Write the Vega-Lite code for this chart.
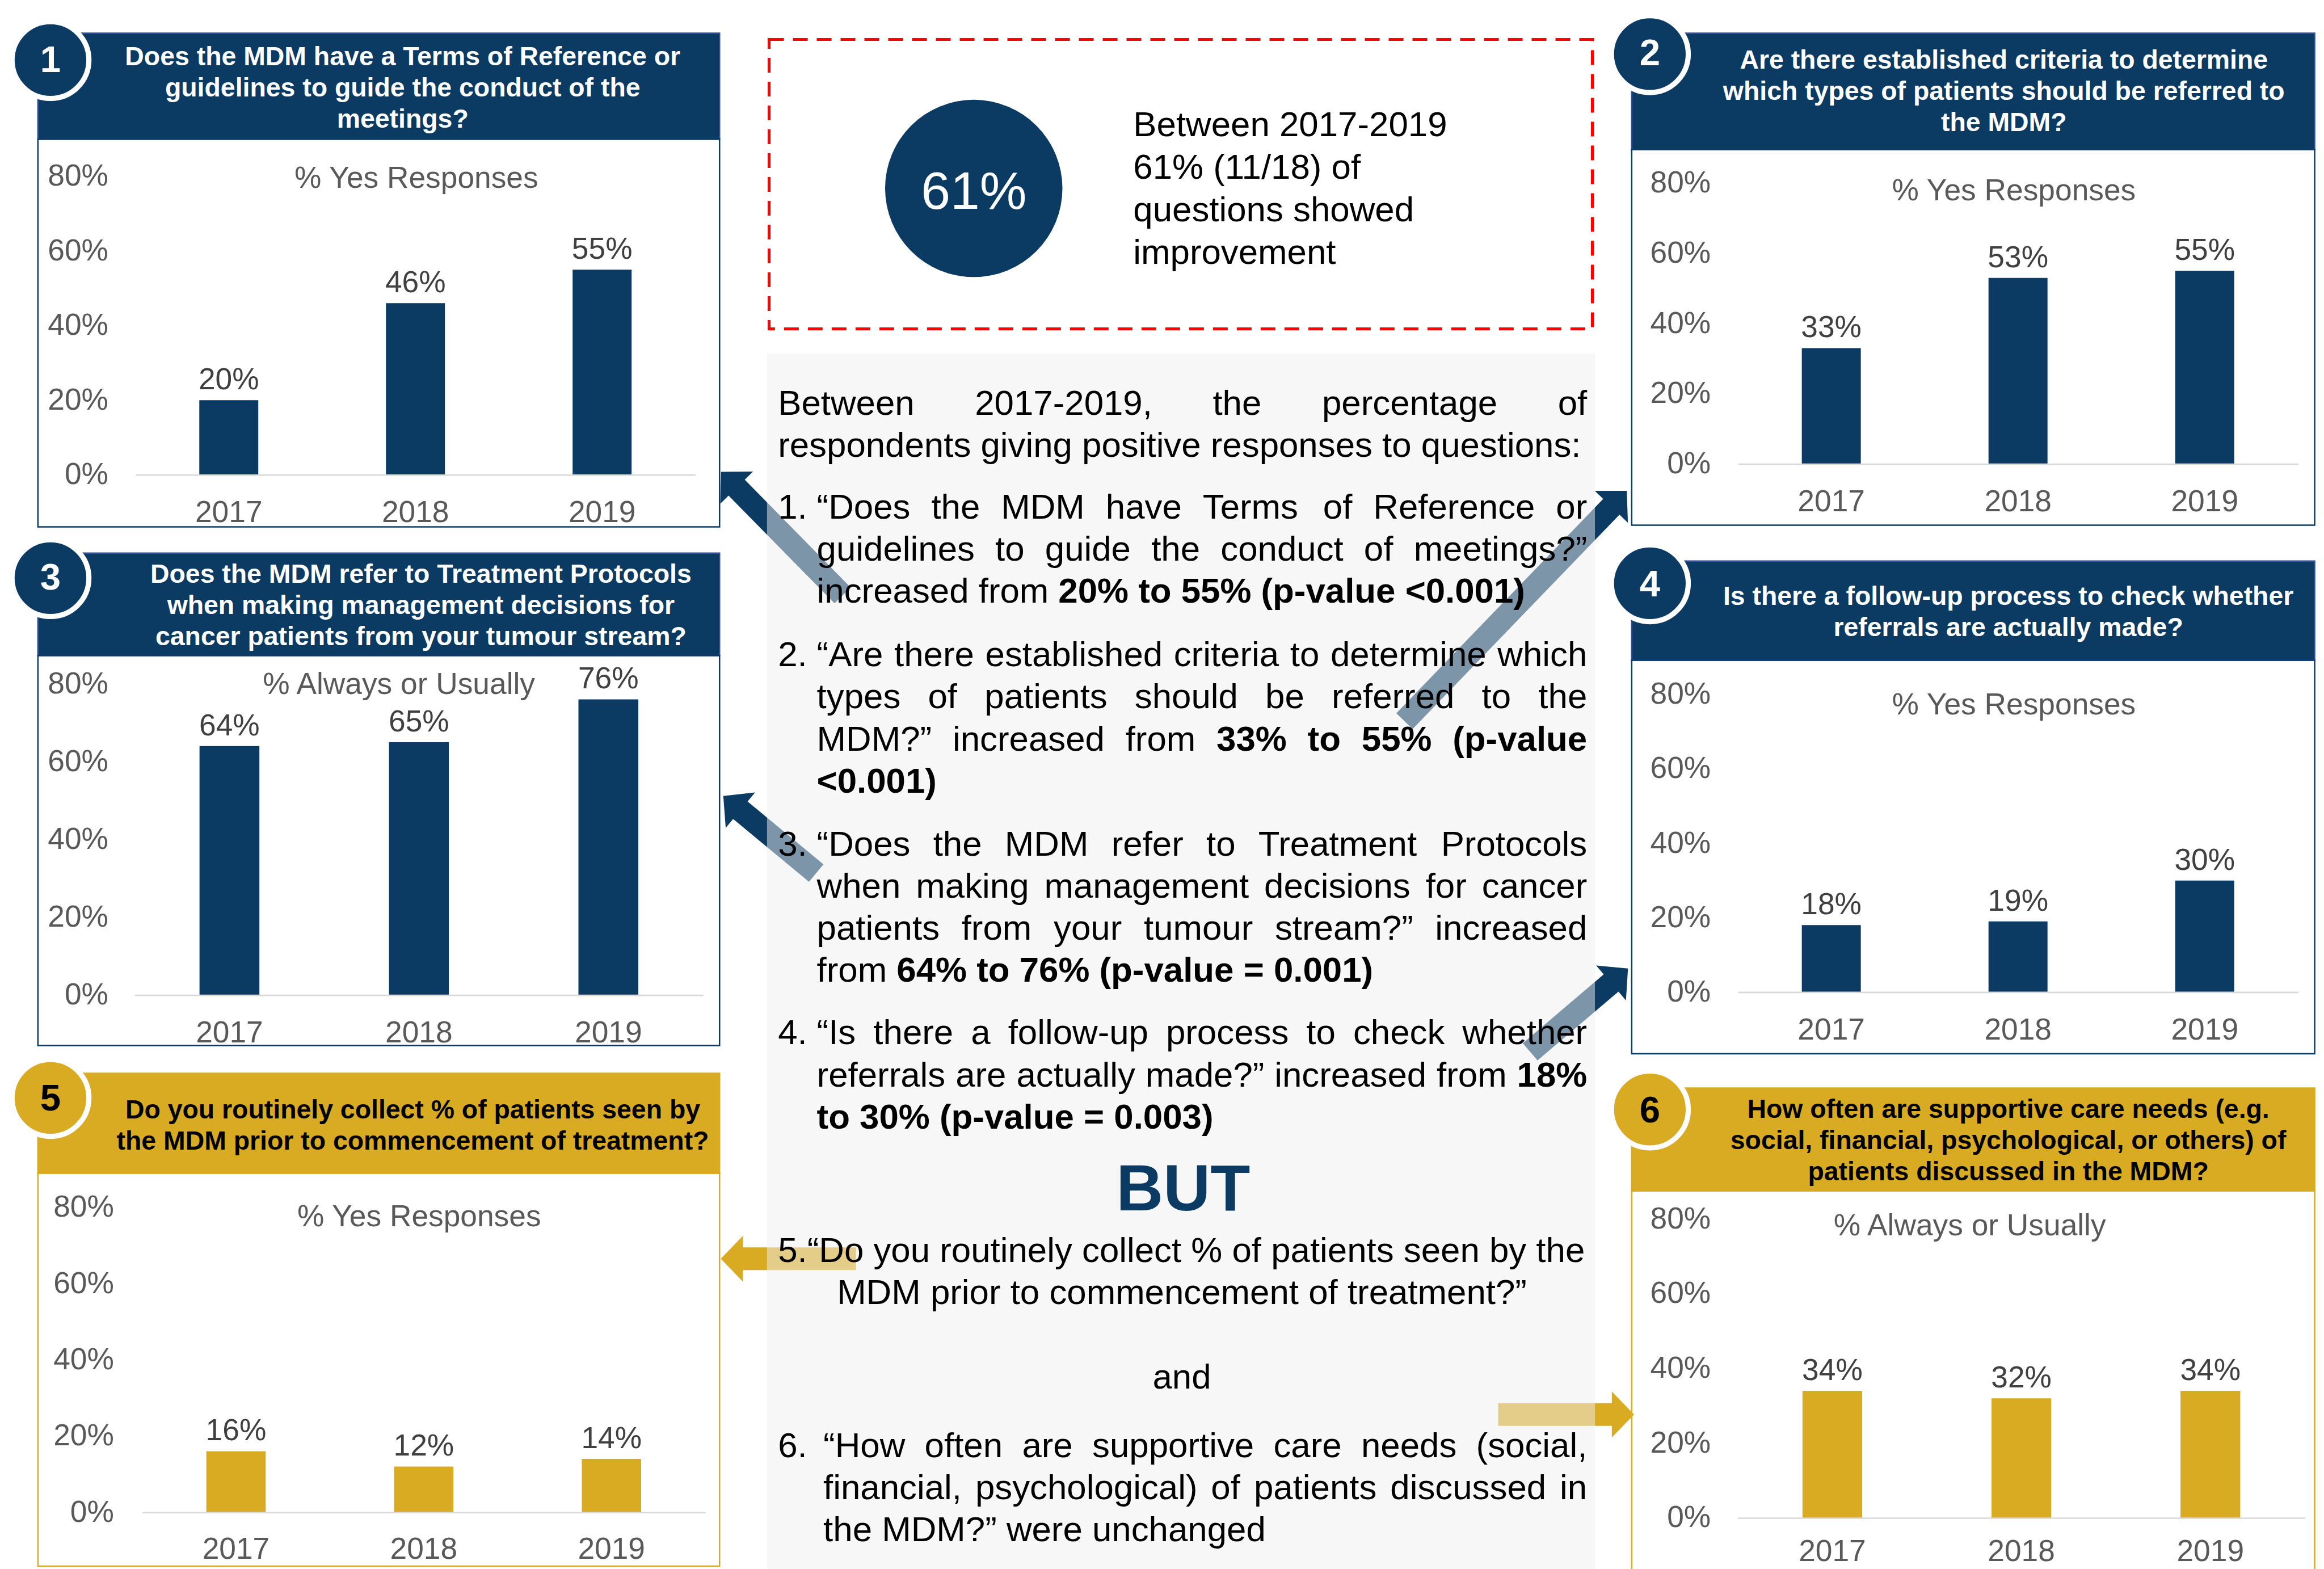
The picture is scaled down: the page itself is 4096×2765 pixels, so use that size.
{
"$schema":"https://vega.github.io/schema/vega-lite/v6.json",
"width":4096,"height":2765,"autosize":{"type":"none"},"padding":0,"background":"#ffffff",
"config":{"font":"Liberation Sans","view":{"stroke":null},"axis":{"labelFont":"Liberation Sans"},"text":{"font":"Liberation Sans"}},
"resolve":{"scale":{"x":"independent","y":"independent"},"axis":{"x":"independent","y":"independent"}},
"layer":[
{"layer":[
{"data":{"values":[{"x":25.6,"x2":485.5,"y":22.4,"y2":93.9},{"x":25.6,"x2":485.5,"y":373.1,"y2":442.2},{"x":1100.9,"x2":1561.7,"y":22.4,"y2":100.9},{"x":1100.9,"x2":1561.7,"y":378.5,"y2":445.4}]},
"mark":{"type":"rect","fill":"#0b3a63","stroke":"#34509a","strokeWidth":2.5},
"encoding":{"x":{"field":"x","type":"quantitative","scale":{"domain":[0,1568],"range":[0,4096],"nice":false,"zero":false},"axis":null},"x2":{"field":"x2"},"y":{"field":"y","type":"quantitative","scale":{"domain":[0,1058.48],"range":[0,2765],"nice":false,"zero":false},"axis":null},"y2":{"field":"y2"}}},
{"data":{"values":[{"x":25.6,"x2":485.5,"y":724.1,"y2":791.5},{"x":1100.9,"x2":1561.7,"y":734,"y2":803.4}]},
"mark":{"type":"rect","fill":"#d9ab23","stroke":"#d9ab23","strokeWidth":2.5},
"encoding":{"x":{"field":"x","type":"quantitative","scale":{"domain":[0,1568],"range":[0,4096],"nice":false,"zero":false},"axis":null},"x2":{"field":"x2"},"y":{"field":"y","type":"quantitative","scale":{"domain":[0,1058.48],"range":[0,2765],"nice":false,"zero":false},"axis":null},"y2":{"field":"y2"}}},
{"data":{"values":[{"x":25.6,"x2":485.5,"y":93.9,"y2":355.4},{"x":25.6,"x2":485.5,"y":442.2,"y2":705.3},{"x":1100.9,"x2":1561.7,"y":100.9,"y2":354.3},{"x":1100.9,"x2":1561.7,"y":445.4,"y2":710.9}]},
"mark":{"type":"rect","filled":false,"fillOpacity":0,"color":"#0b3a63","stroke":"#0b3a63","strokeWidth":2.5},
"encoding":{"x":{"field":"x","type":"quantitative","scale":{"domain":[0,1568],"range":[0,4096],"nice":false,"zero":false},"axis":null},"x2":{"field":"x2"},"y":{"field":"y","type":"quantitative","scale":{"domain":[0,1058.48],"range":[0,2765],"nice":false,"zero":false},"axis":null},"y2":{"field":"y2"}}},
{"data":{"values":[{"x":25.6,"x2":485.5,"y":791.5,"y2":1056.6},{"x":1100.9,"x2":1561.7,"y":803.4,"y2":1060}]},
"mark":{"type":"rect","filled":false,"fillOpacity":0,"color":"#d9ab23","stroke":"#d9ab23","strokeWidth":2.5},
"encoding":{"x":{"field":"x","type":"quantitative","scale":{"domain":[0,1568],"range":[0,4096],"nice":false,"zero":false},"axis":null},"x2":{"field":"x2"},"y":{"field":"y","type":"quantitative","scale":{"domain":[0,1058.48],"range":[0,2765],"nice":false,"zero":false},"axis":null},"y2":{"field":"y2"}}},
{"data":{"values":[
{"x":568.5,"y":401.7,"x2":494.91,"y2":326.85},
{"x":947.6,"y":486.5,"x2":1089.27,"y2":339.73},
{"x":550.7,"y":589.0,"x2":497.24,"y2":544.66},
{"x":1032.4,"y":709.6,"x2":1089.26,"y2":661.18}]},
"mark":{"type":"rule","strokeWidth":40,"strokeCap":"butt","color":"#0b3a63"},
"encoding":{"x":{"field":"x","type":"quantitative","scale":{"domain":[0,1568],"range":[0,4096],"nice":false,"zero":false},"axis":null},"x2":{"field":"x2"},"y":{"field":"y","type":"quantitative","scale":{"domain":[0,1058.48],"range":[0,2765],"nice":false,"zero":false},"axis":null},"y2":{"field":"y2"}}},
{"data":{"values":[
{"x":577.5,"y":849.2,"x2":498.3,"y2":849.2},
{"x":1010.8,"y":954.3,"x2":1090.5,"y2":954.3}]},
"mark":{"type":"rule","strokeWidth":40,"strokeCap":"butt","color":"#d9ab23"},
"encoding":{"x":{"field":"x","type":"quantitative","scale":{"domain":[0,1568],"range":[0,4096],"nice":false,"zero":false},"axis":null},"x2":{"field":"x2"},"y":{"field":"y","type":"quantitative","scale":{"domain":[0,1058.48],"range":[0,2765],"nice":false,"zero":false},"axis":null},"y2":{"field":"y2"}}},
{"data":{"values":[
{"x":491.76,"y":323.65,"a":225.48},
{"x":1092.39,"y":336.5,"a":313.98},
{"x":493.77,"y":541.79,"a":219.67},
{"x":1092.69,"y":658.26,"a":319.59}]},
"mark":{"type":"point","shape":"M1,0L-1,-2.067L-1,2.067Z","filled":true,"size":1535,"opacity":1,"color":"#0b3a63"},
"encoding":{"x":{"field":"x","type":"quantitative","scale":{"domain":[0,1568],"range":[0,4096],"nice":false,"zero":false},"axis":null},"y":{"field":"y","type":"quantitative","scale":{"domain":[0,1058.48],"range":[0,2765],"nice":false,"zero":false},"axis":null},"angle":{"field":"a","type":"quantitative","scale":null}}},
{"data":{"values":[
{"x":493.8,"y":849.2,"a":180},
{"x":1095.0,"y":954.3,"a":0}]},
"mark":{"type":"point","shape":"M1,0L-1,-2.067L-1,2.067Z","filled":true,"size":1535,"opacity":1,"color":"#d9ab23"},
"encoding":{"x":{"field":"x","type":"quantitative","scale":{"domain":[0,1568],"range":[0,4096],"nice":false,"zero":false},"axis":null},"y":{"field":"y","type":"quantitative","scale":{"domain":[0,1058.48],"range":[0,2765],"nice":false,"zero":false},"axis":null},"angle":{"field":"a","type":"quantitative","scale":null}}},
{"data":{"values":[{}]},"mark":{"type":"rect","fill":"#efefef","fillOpacity":0.5},
"encoding":{"x":{"datum":517.5,"type":"quantitative","scale":{"domain":[0,1568],"range":[0,4096],"nice":false,"zero":false},"axis":null},"x2":{"datum":1076.1},"y":{"datum":238.6,"type":"quantitative","scale":{"domain":[0,1058.48],"range":[0,2765],"nice":false,"zero":false},"axis":null},"y2":{"datum":1058.48}}},
{"data":{"values":[{}]},"mark":{"type":"rect","fillOpacity":0,"stroke":"#ff0000","strokeWidth":5.2,"strokeDash":[26,16]},
"encoding":{"x":{"datum":518.9,"type":"quantitative","scale":{"domain":[0,1568],"range":[0,4096],"nice":false,"zero":false},"axis":null},"x2":{"datum":1074.4},"y":{"datum":26.6,"type":"quantitative","scale":{"domain":[0,1058.48],"range":[0,2765],"nice":false,"zero":false},"axis":null},"y2":{"datum":221.9}}},
{"data":{"values":[{}]},"mark":{"type":"point","shape":"circle","filled":true,"size":97680,"color":"#0b3a63","opacity":1},
"encoding":{"x":{"datum":657,"type":"quantitative","scale":{"domain":[0,1568],"range":[0,4096],"nice":false,"zero":false},"axis":null},"y":{"datum":127.1,"type":"quantitative","scale":{"domain":[0,1058.48],"range":[0,2765],"nice":false,"zero":false},"axis":null}}},
{"data":{"values":[{}]},"mark":{"type":"text","align":"center","baseline":"alphabetic","fontSize":93,"color":"#ffffff","text":"61%"},
"encoding":{"x":{"datum":657,"type":"quantitative","scale":{"domain":[0,1568],"range":[0,4096],"nice":false,"zero":false},"axis":null},"y":{"datum":141,"type":"quantitative","scale":{"domain":[0,1058.48],"range":[0,2765],"nice":false,"zero":false},"axis":null}}},
{"data":{"values":[
{"x":764.6,"y":92,"t":"Between 2017-2019"},
{"x":764.6,"y":120.7,"t":"61% (11/18) of"},
{"x":764.6,"y":149.4,"t":"questions showed"},
{"x":764.6,"y":178,"t":"improvement"}]},
"mark":{"type":"text","align":"left","baseline":"alphabetic","fontSize":61.8,"color":"#000000"},
"encoding":{"x":{"field":"x","type":"quantitative","scale":{"domain":[0,1568],"range":[0,4096],"nice":false,"zero":false},"axis":null},"y":{"field":"y","type":"quantitative","scale":{"domain":[0,1058.48],"range":[0,2765],"nice":false,"zero":false},"axis":null},"text":{"field":"t"}}},
{"data":{"values":[
{"x":524.9,"y":280,"t":"Between"},
{"x":657.75,"y":280,"t":"2017-2019,"},
{"x":818.23,"y":280,"t":"the"},
{"x":891.93,"y":280,"t":"percentage"},
{"x":1051.08,"y":280,"t":"of"},
{"x":524.9,"y":308.3,"t":"respondents giving positive responses to questions:"},
{"x":524.9,"y":349.9,"t":"1."},
{"x":551.1,"y":349.9,"t":"“Does"},
{"x":628.34,"y":349.9,"t":"the"},
{"x":675.38,"y":349.9,"t":"MDM"},
{"x":746.03,"y":349.9,"t":"have"},
{"x":811.47,"y":349.9,"t":"Terms"},
{"x":892.64,"y":349.9,"t":"of"},
{"x":926.53,"y":349.9,"t":"Reference"},
{"x":1049.8,"y":349.9,"t":"or"},
{"x":551.1,"y":378.3,"t":"guidelines"},
{"x":671.45,"y":378.3,"t":"to"},
{"x":705.05,"y":378.3,"t":"guide"},
{"x":776.78,"y":378.3,"t":"the"},
{"x":823.53,"y":378.3,"t":"conduct"},
{"x":920.23,"y":378.3,"t":"of"},
{"x":953.83,"y":378.3,"t":"meetings?”"},
{"x":551.1,"y":406.7,"t":"increased from"},
{"x":524.9,"y":449.5,"t":"2."},
{"x":551.1,"y":449.5,"t":"“Are"},
{"x":603.32,"y":449.5,"t":"there"},
{"x":664.76,"y":449.5,"t":"established"},
{"x":791.92,"y":449.5,"t":"criteria"},
{"x":870.41,"y":449.5,"t":"to"},
{"x":897.67,"y":449.5,"t":"determine"},
{"x":1010.36,"y":449.5,"t":"which"},
{"x":551.1,"y":477.9,"t":"types"},
{"x":626.09,"y":477.9,"t":"of"},
{"x":664.28,"y":477.9,"t":"patients"},
{"x":765.57,"y":477.9,"t":"should"},
{"x":853.71,"y":477.9,"t":"be"},
{"x":898.48,"y":477.9,"t":"referred"},
{"x":999.75,"y":477.9,"t":"to"},
{"x":1037.94,"y":477.9,"t":"the"},
{"x":551.1,"y":506.3,"t":"MDM?”"},
{"x":642.72,"y":506.3,"t":"increased"},
{"x":759.36,"y":506.3,"t":"from"},
{"x":524.9,"y":577.2,"t":"3."},
{"x":551.1,"y":577.2,"t":"“Does"},
{"x":629.6,"y":577.2,"t":"the"},
{"x":677.9,"y":577.2,"t":"MDM"},
{"x":749.81,"y":577.2,"t":"refer"},
{"x":813.86,"y":577.2,"t":"to"},
{"x":849.01,"y":577.2,"t":"Treatment"},
{"x":972.21,"y":577.2,"t":"Protocols"},
{"x":551.1,"y":605.6,"t":"when"},
{"x":617.98,"y":605.6,"t":"making"},
{"x":704.56,"y":605.6,"t":"management"},
{"x":852.94,"y":605.6,"t":"decisions"},
{"x":961.87,"y":605.6,"t":"for"},
{"x":999.83,"y":605.6,"t":"cancer"},
{"x":551.1,"y":634,"t":"patients"},
{"x":648.75,"y":634,"t":"from"},
{"x":710.88,"y":634,"t":"your"},
{"x":771.71,"y":634,"t":"tumour"},
{"x":860.14,"y":634,"t":"stream?”"},
{"x":968.27,"y":634,"t":"increased"},
{"x":551.1,"y":662.4,"t":"from"},
{"x":524.9,"y":704.5,"t":"4."},
{"x":551.1,"y":704.5,"t":"“Is"},
{"x":589.28,"y":704.5,"t":"there"},
{"x":655.08,"y":704.5,"t":"a"},
{"x":680.13,"y":704.5,"t":"follow-up"},
{"x":786.65,"y":704.5,"t":"process"},
{"x":881.35,"y":704.5,"t":"to"},
{"x":912.97,"y":704.5,"t":"check"},
{"x":986.64,"y":704.5,"t":"whether"},
{"x":551.1,"y":732.9,"t":"referrals"},
{"x":644.71,"y":732.9,"t":"are"},
{"x":685.77,"y":732.9,"t":"actually"},
{"x":772.83,"y":732.9,"t":"made?”"},
{"x":859.89,"y":732.9,"t":"increased"},
{"x":969.3,"y":732.9,"t":"from"},
{"x":524.9,"y":851.4,"t":"5.“Do you routinely collect % of patients seen by the"},
{"x":524.9,"y":983.1,"t":"6."},
{"x":555.5,"y":983.1,"t":"“How"},
{"x":623.84,"y":983.1,"t":"often"},
{"x":689.6,"y":983.1,"t":"are"},
{"x":736.93,"y":983.1,"t":"supportive"},
{"x":859.19,"y":983.1,"t":"care"},
{"x":918.35,"y":983.1,"t":"needs"},
{"x":995.93,"y":983.1,"t":"(social,"},
{"x":555.5,"y":1011.5,"t":"financial,"},
{"x":658.03,"y":1011.5,"t":"psychological)"},
{"x":817.06,"y":1011.5,"t":"of"},
{"x":845.99,"y":1011.5,"t":"patients"},
{"x":938.02,"y":1011.5,"t":"discussed"},
{"x":1052.38,"y":1011.5,"t":"in"},
{"x":555.5,"y":1039.9,"t":"the MDM?” were unchanged"}]},
"mark":{"type":"text","align":"left","baseline":"alphabetic","fontSize":61.8,"color":"#000000"},
"encoding":{"x":{"field":"x","type":"quantitative","scale":{"domain":[0,1568],"range":[0,4096],"nice":false,"zero":false},"axis":null},"y":{"field":"y","type":"quantitative","scale":{"domain":[0,1058.48],"range":[0,2765],"nice":false,"zero":false},"axis":null},"text":{"field":"t"}}},
{"data":{"values":[
{"x":714.07,"y":406.7,"t":"20% to 55% (p-value <0.001)"},
{"x":820.78,"y":506.3,"t":"33%"},
{"x":882.22,"y":506.3,"t":"to"},
{"x":918.67,"y":506.3,"t":"55%"},
{"x":980.11,"y":506.3,"t":"(p-value"},
{"x":551.1,"y":534.7,"t":"<0.001)"},
{"x":604.97,"y":662.4,"t":"64% to 76% (p-value = 0.001)"},
{"x":1023.49,"y":732.9,"t":"18%"},
{"x":551.1,"y":761.3,"t":"to 30% (p-value = 0.003)"}]},
"mark":{"type":"text","align":"left","baseline":"alphabetic","fontSize":61.8,"fontWeight":"bold","color":"#000000"},
"encoding":{"x":{"field":"x","type":"quantitative","scale":{"domain":[0,1568],"range":[0,4096],"nice":false,"zero":false},"axis":null},"y":{"field":"y","type":"quantitative","scale":{"domain":[0,1058.48],"range":[0,2765],"nice":false,"zero":false},"axis":null},"text":{"field":"t"}}},
{"data":{"values":[
{"x":797.4,"y":879.8,"t":"MDM prior to commencement of treatment?”"},
{"x":797.4,"y":936.8,"t":"and"}]},
"mark":{"type":"text","align":"center","baseline":"alphabetic","fontSize":61.8,"color":"#000000"},
"encoding":{"x":{"field":"x","type":"quantitative","scale":{"domain":[0,1568],"range":[0,4096],"nice":false,"zero":false},"axis":null},"y":{"field":"y","type":"quantitative","scale":{"domain":[0,1058.48],"range":[0,2765],"nice":false,"zero":false},"axis":null},"text":{"field":"t"}}},
{"data":{"values":[{}]},"mark":{"type":"text","align":"center","baseline":"alphabetic","fontSize":114.9,"fontWeight":"bold","color":"#0b3a63","text":"BUT"},
"encoding":{"x":{"datum":798.3,"type":"quantitative","scale":{"domain":[0,1568],"range":[0,4096],"nice":false,"zero":false},"axis":null},"y":{"datum":816.6,"type":"quantitative","scale":{"domain":[0,1058.48],"range":[0,2765],"nice":false,"zero":false},"axis":null}}},
{"data":{"values":[
{"x":271.7,"y":43.9,"t":"Does the MDM have a Terms of Reference or\nguidelines to guide the conduct of the\nmeetings?"},
{"x":284.0,"y":393.2,"t":"Does the MDM refer to Treatment Protocols\nwhen making management decisions for\ncancer patients from your tumour stream?"},
{"x":1352.0,"y":46.2,"t":"Are there established criteria to determine\nwhich types of patients should be referred to\nthe MDM?"},
{"x":1355.0,"y":408.1,"t":"Is there a follow-up process to check whether\nreferrals are actually made?"}]},
"mark":{"type":"text","align":"center","baseline":"alphabetic","fontSize":46.4,"fontWeight":"bold","lineHeight":55,"lineBreak":"\n","color":"#ffffff"},
"encoding":{"x":{"field":"x","type":"quantitative","scale":{"domain":[0,1568],"range":[0,4096],"nice":false,"zero":false},"axis":null},"y":{"field":"y","type":"quantitative","scale":{"domain":[0,1058.48],"range":[0,2765],"nice":false,"zero":false},"axis":null},"text":{"field":"t"}}},
{"data":{"values":[
{"x":278.5,"y":754.5,"t":"Do you routinely collect % of patients seen by\nthe MDM prior to commencement of treatment?"},
{"x":1355.0,"y":754.0,"t":"How often are supportive care needs (e.g.\nsocial, financial, psychological, or others) of\npatients discussed in the MDM?"}]},
"mark":{"type":"text","align":"center","baseline":"alphabetic","fontSize":46.4,"fontWeight":"bold","lineHeight":55,"lineBreak":"\n","color":"#000000"},
"encoding":{"x":{"field":"x","type":"quantitative","scale":{"domain":[0,1568],"range":[0,4096],"nice":false,"zero":false},"axis":null},"y":{"field":"y","type":"quantitative","scale":{"domain":[0,1058.48],"range":[0,2765],"nice":false,"zero":false},"axis":null},"text":{"field":"t"}}},
{"data":{"values":[{"x":34.05,"y":40.5},{"x":34.05,"y":390},{"x":1113.15,"y":36.5},{"x":1113.15,"y":393.5}]},
"mark":{"type":"point","shape":"circle","filled":true,"size":18342,"fill":"#0b3a63","stroke":"#ffffff","strokeWidth":9.14,"opacity":1},
"encoding":{"x":{"field":"x","type":"quantitative","scale":{"domain":[0,1568],"range":[0,4096],"nice":false,"zero":false},"axis":null},"y":{"field":"y","type":"quantitative","scale":{"domain":[0,1058.48],"range":[0,2765],"nice":false,"zero":false},"axis":null}}},
{"data":{"values":[{"x":34.05,"y":740.7},{"x":1113.15,"y":748.5}]},
"mark":{"type":"point","shape":"circle","filled":true,"size":18342,"fill":"#d9ab23","stroke":"#ffffff","strokeWidth":9.14,"opacity":1},
"encoding":{"x":{"field":"x","type":"quantitative","scale":{"domain":[0,1568],"range":[0,4096],"nice":false,"zero":false},"axis":null},"y":{"field":"y","type":"quantitative","scale":{"domain":[0,1058.48],"range":[0,2765],"nice":false,"zero":false},"axis":null}}},
{"data":{"values":[{"x":34.05,"y":48.5,"t":"1"},{"x":34.05,"y":397.8,"t":"3"},{"x":1113.15,"y":43.9,"t":"2"},{"x":1113.15,"y":402.3,"t":"4"}]},
"mark":{"type":"text","align":"center","baseline":"alphabetic","fontSize":65.3,"fontWeight":"bold","color":"#ffffff"},
"encoding":{"x":{"field":"x","type":"quantitative","scale":{"domain":[0,1568],"range":[0,4096],"nice":false,"zero":false},"axis":null},"y":{"field":"y","type":"quantitative","scale":{"domain":[0,1058.48],"range":[0,2765],"nice":false,"zero":false},"axis":null},"text":{"field":"t"}}},
{"data":{"values":[{"x":34.05,"y":749,"t":"5"},{"x":1113.15,"y":757.2,"t":"6"}]},
"mark":{"type":"text","align":"center","baseline":"alphabetic","fontSize":65.3,"fontWeight":"bold","color":"#000000"},
"encoding":{"x":{"field":"x","type":"quantitative","scale":{"domain":[0,1568],"range":[0,4096],"nice":false,"zero":false},"axis":null},"y":{"field":"y","type":"quantitative","scale":{"domain":[0,1058.48],"range":[0,2765],"nice":false,"zero":false},"axis":null},"text":{"field":"t"}}}
]},
{"data":{"values":[{"year":"2017","pct":0.20},{"year":"2018","pct":0.46},{"year":"2019","pct":0.55}]},
"encoding":{
"x":{"field":"year","type":"nominal","scale":{"type":"band","range":[238.76,1225.66],"paddingInner":0.684,"paddingOuter":0.342},"axis":{"orient":"bottom","offset":-1928.3,"zindex":1,"title":null,"ticks":false,"tickSize":0,"domain":true,"domainColor":"#d9d9d9","domainWidth":2.6,"grid":false,"labelAngle":0,"labelPadding":83.1,"labelBaseline":"alphabetic","labelFontSize":53.3,"labelColor":"#595959"}},
"y":{"field":"pct","type":"quantitative","scale":{"domain":[0,0.8],"range":[836.7,310.86],"nice":false,"zero":false},"axis":{"orient":"left","offset":-190.43,"zindex":1,"title":null,"values":[0,0.2,0.4,0.6,0.8],"format":".0%","ticks":false,"tickSize":0,"domain":false,"grid":false,"labelPadding":0,"labelAlign":"right","labelBaseline":"middle","labelFontSize":53.3,"labelColor":"#595959"}}},
"layer":[
{"mark":{"type":"bar","color":"#0b3a63"}},
{"mark":{"type":"text","align":"center","baseline":"alphabetic","dy":-19.1,"fontSize":53.3,"color":"#404040"},"encoding":{"text":{"field":"pct","type":"quantitative","format":".0%"}}},
{"mark":{"type":"text","align":"center","baseline":"alphabetic","dx":1.6,"dy":20.6,"fontSize":53.3,"color":"#595959","text":"% Yes Responses"},"transform":[{"filter":"datum.year == '2018'"}],"encoding":{"y":{"datum":0.8}}}
]},
{"data":{"values":[{"year":"2017","pct":0.64},{"year":"2018","pct":0.65},{"year":"2019","pct":0.76}]},
"encoding":{
"x":{"field":"year","type":"nominal","scale":{"type":"band","range":[237.45,1239.24],"paddingInner":0.684,"paddingOuter":0.342},"axis":{"orient":"bottom","offset":-1011.42,"zindex":1,"title":null,"ticks":false,"tickSize":0,"domain":true,"domainColor":"#d9d9d9","domainWidth":2.6,"grid":false,"labelAngle":0,"labelPadding":83.1,"labelBaseline":"alphabetic","labelFontSize":53.3,"labelColor":"#595959"}},
"y":{"field":"pct","type":"quantitative","scale":{"domain":[0,0.8],"range":[1753.58,1205.03],"nice":false,"zero":false},"axis":{"orient":"left","offset":-190.43,"zindex":1,"title":null,"values":[0,0.2,0.4,0.6,0.8],"format":".0%","ticks":false,"tickSize":0,"domain":false,"grid":false,"labelPadding":0,"labelAlign":"right","labelBaseline":"middle","labelFontSize":53.3,"labelColor":"#595959"}}},
"layer":[
{"mark":{"type":"bar","color":"#0b3a63"}},
{"mark":{"type":"text","align":"center","baseline":"alphabetic","dy":-19.1,"fontSize":53.3,"color":"#404040"},"encoding":{"text":{"field":"pct","type":"quantitative","format":".0%"}}},
{"mark":{"type":"text","align":"center","baseline":"alphabetic","dx":-35.3,"dy":18.0,"fontSize":53.3,"color":"#595959","text":"% Always or Usually"},"transform":[{"filter":"datum.year == '2018'"}],"encoding":{"y":{"datum":0.8}}}
]},
{"data":{"values":[{"year":"2017","pct":0.16},{"year":"2018","pct":0.12},{"year":"2019","pct":0.14}]},
"encoding":{
"x":{"field":"year","type":"nominal","scale":{"type":"band","range":[250.51,1243.16],"paddingInner":0.684,"paddingOuter":0.342},"axis":{"orient":"bottom","offset":-99.99,"zindex":1,"title":null,"ticks":false,"tickSize":0,"domain":true,"domainColor":"#d9d9d9","domainWidth":2.6,"grid":false,"labelAngle":0,"labelPadding":81.5,"labelBaseline":"alphabetic","labelFontSize":53.3,"labelColor":"#595959"}},
"y":{"field":"pct","type":"quantitative","scale":{"domain":[0,0.8],"range":[2665.01,2127.67],"nice":false,"zero":false},"axis":{"orient":"left","offset":-200.36,"zindex":1,"title":null,"values":[0,0.2,0.4,0.6,0.8],"format":".0%","ticks":false,"tickSize":0,"domain":false,"grid":false,"labelPadding":0,"labelAlign":"right","labelBaseline":"middle","labelFontSize":53.3,"labelColor":"#595959"}}},
"layer":[
{"mark":{"type":"bar","color":"#d9ab23"}},
{"mark":{"type":"text","align":"center","baseline":"alphabetic","dy":-19.1,"fontSize":53.3,"color":"#404040"},"encoding":{"text":{"field":"pct","type":"quantitative","format":".0%"}}},
{"mark":{"type":"text","align":"center","baseline":"alphabetic","dx":-8.1,"dy":33.4,"fontSize":53.3,"color":"#595959","text":"% Yes Responses"},"transform":[{"filter":"datum.year == '2018'"}],"encoding":{"y":{"datum":0.8}}}
]},
{"data":{"values":[{"year":"2017","pct":0.33},{"year":"2018","pct":0.53},{"year":"2019","pct":0.55}]},
"encoding":{
"x":{"field":"year","type":"nominal","scale":{"type":"band","range":[3063.11,4050.29],"paddingInner":0.684,"paddingOuter":0.342},"axis":{"orient":"bottom","offset":-1947.37,"zindex":1,"title":null,"ticks":false,"tickSize":0,"domain":true,"domainColor":"#d9d9d9","domainWidth":2.6,"grid":false,"labelAngle":0,"labelPadding":83.1,"labelBaseline":"alphabetic","labelFontSize":53.3,"labelColor":"#595959"}},
"y":{"field":"pct","type":"quantitative","scale":{"domain":[0,0.8],"range":[817.63,322.61],"nice":false,"zero":false},"axis":{"orient":"left","offset":-3014.76,"zindex":1,"title":null,"values":[0,0.2,0.4,0.6,0.8],"format":".0%","ticks":false,"tickSize":0,"domain":false,"grid":false,"labelPadding":0,"labelAlign":"right","labelBaseline":"middle","labelFontSize":53.3,"labelColor":"#595959"}}},
"layer":[
{"mark":{"type":"bar","color":"#0b3a63"}},
{"mark":{"type":"text","align":"center","baseline":"alphabetic","dy":-19.1,"fontSize":53.3,"color":"#404040"},"encoding":{"text":{"field":"pct","type":"quantitative","format":".0%"}}},
{"mark":{"type":"text","align":"center","baseline":"alphabetic","dx":-7.3,"dy":30.0,"fontSize":53.3,"color":"#595959","text":"% Yes Responses"},"transform":[{"filter":"datum.year == '2018'"}],"encoding":{"y":{"datum":0.8}}}
]},
{"data":{"values":[{"year":"2017","pct":0.18},{"year":"2018","pct":0.19},{"year":"2019","pct":0.30}]},
"encoding":{
"x":{"field":"year","type":"nominal","scale":{"type":"band","range":[3063.11,4050.29],"paddingInner":0.684,"paddingOuter":0.342},"axis":{"orient":"bottom","offset":-1016.63,"zindex":1,"title":null,"ticks":false,"tickSize":0,"domain":true,"domainColor":"#d9d9d9","domainWidth":2.6,"grid":false,"labelAngle":0,"labelPadding":83.1,"labelBaseline":"alphabetic","labelFontSize":53.3,"labelColor":"#595959"}},
"y":{"field":"pct","type":"quantitative","scale":{"domain":[0,0.8],"range":[1748.37,1223.83],"nice":false,"zero":false},"axis":{"orient":"left","offset":-3014.76,"zindex":1,"title":null,"values":[0,0.2,0.4,0.6,0.8],"format":".0%","ticks":false,"tickSize":0,"domain":false,"grid":false,"labelPadding":0,"labelAlign":"right","labelBaseline":"middle","labelFontSize":53.3,"labelColor":"#595959"}}},
"layer":[
{"mark":{"type":"bar","color":"#0b3a63"}},
{"mark":{"type":"text","align":"center","baseline":"alphabetic","dy":-19.1,"fontSize":53.3,"color":"#404040"},"encoding":{"text":{"field":"pct","type":"quantitative","format":".0%"}}},
{"mark":{"type":"text","align":"center","baseline":"alphabetic","dx":-7.3,"dy":35.0,"fontSize":53.3,"color":"#595959","text":"% Yes Responses"},"transform":[{"filter":"datum.year == '2018'"}],"encoding":{"y":{"datum":0.8}}}
]},
{"data":{"values":[{"year":"2017","pct":0.34},{"year":"2018","pct":0.32},{"year":"2019","pct":0.34}]},
"encoding":{
"x":{"field":"year","type":"nominal","scale":{"type":"band","range":[3062.85,4062.33],"paddingInner":0.684,"paddingOuter":0.342},"axis":{"orient":"bottom","offset":-90.06,"zindex":1,"title":null,"ticks":false,"tickSize":0,"domain":true,"domainColor":"#d9d9d9","domainWidth":2.6,"grid":false,"labelAngle":0,"labelPadding":75.5,"labelBaseline":"alphabetic","labelFontSize":53.3,"labelColor":"#595959"}},
"y":{"field":"pct","type":"quantitative","scale":{"domain":[0,0.8],"range":[2674.94,2148.04],"nice":false,"zero":false},"axis":{"orient":"left","offset":-3014.76,"zindex":1,"title":null,"values":[0,0.2,0.4,0.6,0.8],"format":".0%","ticks":false,"tickSize":0,"domain":false,"grid":false,"labelPadding":0,"labelAlign":"right","labelBaseline":"middle","labelFontSize":53.3,"labelColor":"#595959"}}},
"layer":[
{"mark":{"type":"bar","color":"#d9ab23"}},
{"mark":{"type":"text","align":"center","baseline":"alphabetic","dy":-19.1,"fontSize":53.3,"color":"#404040"},"encoding":{"text":{"field":"pct","type":"quantitative","format":".0%"}}},
{"mark":{"type":"text","align":"center","baseline":"alphabetic","dx":-90.9,"dy":28.5,"fontSize":53.3,"color":"#595959","text":"% Always or Usually"},"transform":[{"filter":"datum.year == '2018'"}],"encoding":{"y":{"datum":0.8}}}
]}
]
}
